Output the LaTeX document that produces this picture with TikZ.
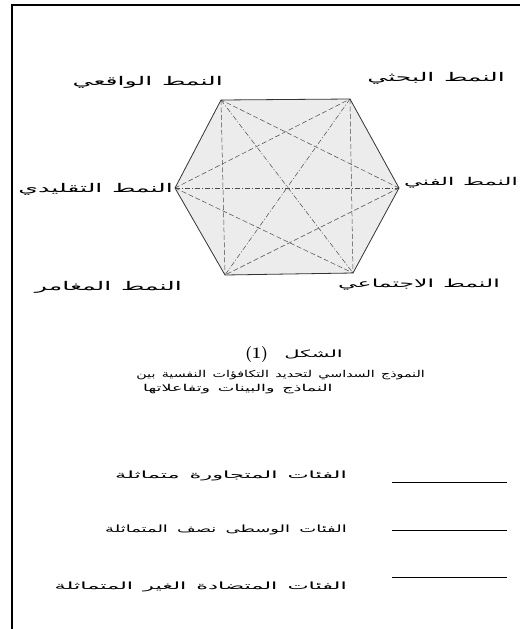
\documentclass[tikz,border=0pt]{standalone}
\usepackage{fontspec}
\newfontfamily\labelarab[Script=Arabic,FakeStretch=2.1,WordSpace=1.2]{DejaVu Sans}
\newfontfamily\legendarab[Script=Arabic,FakeStretch=2.25,WordSpace=1.4]{DejaVu Sans}
\newfontfamily\legendtight[Script=Arabic,FakeStretch=1.8,WordSpace=1.6]{DejaVu Sans}
\newfontfamily\captionarab[Script=Arabic,FakeStretch=1.5,WordSpace=1.4]{DejaVu Sans}
\newfontfamily\captionwide[Script=Arabic,FakeStretch=1.85,WordSpace=1.4]{DejaVu Sans}
\TeXXeTstate=1
\usepackage{xcolor}
\definecolor{cEdge}{HTML}{333333}
\definecolor{cDiag}{HTML}{4A4A4A}
\definecolor{cFill}{HTML}{ECECEC}
\usepackage{tikz}
\usetikzlibrary{positioning}
\newcommand{\artext}[1]{\beginR #1\endR}
\tikzset{
  frame-line/.style={line width=1.6pt,draw=black},
  hex-fill/.style={fill=cFill},
  hex-edge/.style={draw=cEdge,line width=0.8pt,line join=round},
  diag-dash/.style={draw=cDiag,line width=0.5pt,dash pattern=on 5pt off 2.5pt},
  diag-dashdot/.style={draw=cDiag,line width=0.5pt,dash pattern=on 5pt off 2pt on 1pt off 2pt},
  type-label/.style={inner sep=0pt,font=\labelarab\fontsize{12}{14}\selectfont},
  caption-text/.style={inner sep=0pt,font=\captionarab\fontsize{9.5}{11}\selectfont},
  legend-text/.style={inner sep=0pt,font=\legendarab\fontsize{10}{12}\selectfont},
  legend-narrow/.style={font=\legendtight\fontsize{10}{12}\selectfont},
  legend-line/.style={draw=black,line width=0.9pt},
}

\begin{document}
\begin{tikzpicture}[x=1pt,y=-1pt]
  \useasboundingbox (0,0) rectangle (520,629);
  \draw[frame-line] (12,629) -- (12,5) -- (520,5);
  % hexagon corners
  \coordinate (vReal) at (221,100);
  \coordinate (vInv)  at (350,99);
  \coordinate (vArt)  at (399,188);
  \coordinate (vSoc)  at (353,273);
  \coordinate (vEnt)  at (225,275);
  \coordinate (vConv) at (175,188);
  \fill[hex-fill] (vReal) -- (vInv) -- (vArt) -- (vSoc) -- (vEnt) -- (vConv) -- cycle;
  \foreach \a/\b in {vConv/vInv, vConv/vSoc, vArt/vReal, vArt/vEnt, vReal/vEnt, vInv/vSoc}
    \draw[diag-dash] (\a) -- (\b);
  \foreach \a/\b in {vConv/vArt, vReal/vSoc, vInv/vEnt}
    \draw[diag-dashdot] (\a) -- (\b);
  \draw[hex-edge] (vReal) -- (vInv) -- (vArt) -- (vSoc) -- (vEnt) -- (vConv) -- cycle;
  % type labels
  \node[type-label,anchor=east] (lReal) at (223,82)  {\artext{النمط الواقعي}};
  \node[type-label,anchor=east] (lInv)  at (505,78)  {\artext{النمط البحثي}};
  \node[type-label,anchor=east,font=\labelarab\fontsize{10.8}{13}\selectfont]
    (lArt) at (518,183) {\artext{النمط الفني}};
  \node[type-label,anchor=east] (lConv) at (173,189) {\artext{النمط التقليدي}};
  \node[type-label,anchor=east] (lEnt)  at (182,287) {\artext{النمط المغامر}};
  \node[type-label,anchor=east,font=\labelarab\fontsize{11.2}{13}\selectfont]
    (lSoc) at (500,285) {\artext{النمط الاجتماعي}};
  % caption
  \node[inner sep=0pt,anchor=east,font=\labelarab\fontsize{10}{12}\selectfont]
    (figWord) at (343,354) {\artext{الشكل}};
  \node[inner sep=0pt,anchor=west,font=\fontsize{16}{18}\selectfont\bfseries]
    (figNum) at (245,355) {(1)};
  \node[caption-text,anchor=east] (capA) at (425,375)
    {\artext{النموذج السداسي لتحديد التكافؤات النفسية بين}};
  \node[caption-text,anchor=west,font=\captionwide\fontsize{9.5}{11}\selectfont]
    (capB) at (143,389) {\artext{النماذج والبينات وتفاعلاتها}};
  % legend
  \foreach \i/\y/\ty/\sty/\txt in {1/482/476/legend-text/{الفئات المتجاورة متماثلة},
      2/530/530/legend-narrow/{الفئات الوسطى نصف المتماثلة},
      3/577/587/legend-text/{الفئات المتضادة الغير المتماثلة}} {
    \coordinate (legS\i) at (392,\y);
    \coordinate (legE\i) at (507,\y);
    \draw[legend-line] (legS\i) -- (legE\i);
    \node[legend-text,\sty,anchor=east] (legT\i) at (347,\ty) {\artext{\txt}};
  }
\end{tikzpicture}
\end{document}
